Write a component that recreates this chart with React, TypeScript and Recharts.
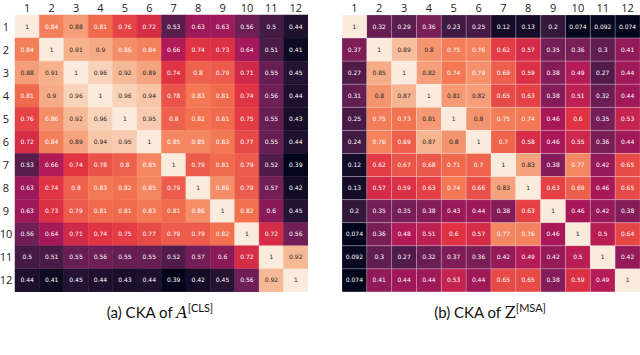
import React from 'react';
import { BarChart, Bar, XAxis, YAxis, Cell, LabelList } from 'recharts';

const rowLabels = ['1', '2', '3', '4', '5', '6', '7', '8', '9', '10', '11', '12'];
const colTicks = [0.5, 1.5, 2.5, 3.5, 4.5, 5.5, 6.5, 7.5, 8.5, 9.5, 10.5, 11.5];

// (a) CKA of A^[CLS]
const clsValues: number[][] = [
  [1, 0.84, 0.88, 0.81, 0.76, 0.72, 0.53, 0.63, 0.63, 0.56, 0.5, 0.44],
  [0.84, 1, 0.91, 0.9, 0.86, 0.84, 0.66, 0.74, 0.73, 0.64, 0.51, 0.41],
  [0.88, 0.91, 1, 0.96, 0.92, 0.89, 0.74, 0.8, 0.79, 0.71, 0.55, 0.45],
  [0.81, 0.9, 0.96, 1, 0.96, 0.94, 0.78, 0.83, 0.81, 0.74, 0.56, 0.44],
  [0.76, 0.86, 0.92, 0.96, 1, 0.95, 0.8, 0.82, 0.81, 0.75, 0.55, 0.43],
  [0.72, 0.84, 0.89, 0.94, 0.95, 1, 0.85, 0.85, 0.83, 0.77, 0.55, 0.44],
  [0.53, 0.66, 0.74, 0.78, 0.8, 0.85, 1, 0.79, 0.81, 0.79, 0.52, 0.39],
  [0.63, 0.74, 0.8, 0.83, 0.82, 0.85, 0.79, 1, 0.86, 0.79, 0.57, 0.42],
  [0.63, 0.73, 0.79, 0.81, 0.81, 0.83, 0.81, 0.86, 1, 0.82, 0.6, 0.45],
  [0.56, 0.64, 0.71, 0.74, 0.75, 0.77, 0.79, 0.79, 0.82, 1, 0.72, 0.56],
  [0.5, 0.51, 0.55, 0.56, 0.55, 0.55, 0.52, 0.57, 0.6, 0.72, 1, 0.92],
  [0.44, 0.41, 0.45, 0.44, 0.43, 0.44, 0.39, 0.42, 0.45, 0.56, 0.92, 1],
];

// (b) CKA of Z^[MSA]
const msaValues: number[][] = [
  [1, 0.32, 0.29, 0.36, 0.23, 0.25, 0.12, 0.13, 0.2, 0.074, 0.092, 0.074],
  [0.37, 1, 0.89, 0.8, 0.75, 0.76, 0.62, 0.57, 0.35, 0.36, 0.3, 0.41],
  [0.27, 0.85, 1, 0.82, 0.74, 0.79, 0.69, 0.59, 0.38, 0.49, 0.27, 0.44],
  [0.31, 0.8, 0.87, 1, 0.81, 0.82, 0.65, 0.63, 0.38, 0.51, 0.32, 0.44],
  [0.25, 0.75, 0.73, 0.81, 1, 0.8, 0.75, 0.74, 0.46, 0.6, 0.35, 0.53],
  [0.24, 0.76, 0.69, 0.87, 0.8, 1, 0.7, 0.58, 0.46, 0.55, 0.36, 0.44],
  [0.12, 0.62, 0.67, 0.68, 0.71, 0.7, 1, 0.83, 0.38, 0.77, 0.42, 0.65],
  [0.13, 0.57, 0.59, 0.63, 0.74, 0.66, 0.83, 1, 0.63, 0.69, 0.46, 0.65],
  [0.2, 0.35, 0.35, 0.38, 0.43, 0.44, 0.38, 0.63, 1, 0.46, 0.42, 0.38],
  [0.074, 0.36, 0.48, 0.51, 0.6, 0.57, 0.77, 0.76, 0.46, 1, 0.5, 0.64],
  [0.092, 0.3, 0.27, 0.32, 0.37, 0.36, 0.42, 0.49, 0.42, 0.5, 1, 0.42],
  [0.074, 0.41, 0.44, 0.44, 0.53, 0.44, 0.65, 0.65, 0.38, 0.59, 0.49, 1],
];

// seaborn "rocket" anchors
const ROCKET = ['#03051a', '#35193e', '#701f57', '#ad1759', '#e13342', '#f37651', '#f6b48f', '#faebdd'];

const hexToRgb = (h: string) => [1, 3, 5].map((i) => parseInt(h.slice(i, i + 2), 16));

function rocketRgb(v: number, lo: number, hi: number) {
  const t = Math.min(1, Math.max(0, (v - lo) / (hi - lo)));
  const p = t * (ROCKET.length - 1);
  const i = Math.min(ROCKET.length - 2, Math.floor(p));
  const f = p - i;
  const a = hexToRgb(ROCKET[i]);
  const b = hexToRgb(ROCKET[i + 1]);
  return a.map((c, k) => Math.round(c + (b[k] - c) * f));
}

const toHex = (rgb: number[]) => '#' + rgb.map((c) => c.toString(16).padStart(2, '0')).join('');

function textColor(rgb: number[]) {
  const lin = rgb.map((c) => {
    const s = c / 255;
    return s <= 0.03928 ? s / 12.92 : Math.pow((s + 0.055) / 1.055, 2.4);
  });
  const lum = 0.2126 * lin[0] + 0.7152 * lin[1] + 0.0722 * lin[2];
  return lum > 0.408 ? '#262626' : '#ffffff';
}

interface HeatmapProps {
  values: number[][];
  width: number;
  height: number;
  showRows: boolean;
  gridLines?: boolean;
}

const Heatmap: React.FC<HeatmapProps> = ({ values, width, height, showRows, gridLines }) => {
  const flat = values.flat();
  const lo = Math.min(...flat);
  const hi = Math.max(...flat);
  const data = rowLabels.map((r, i) => {
    const o: Record<string, any> = { row: r };
    values[i].forEach((v, j) => {
      o[`c${j}`] = 1;
      o[`v${j}`] = v;
    });
    return o;
  });

  return (
    <BarChart
      layout="vertical"
      width={width}
      height={height}
      data={data}
      margin={{ top: 2, right: 0, bottom: 0, left: 0 }}
      barCategoryGap={0}
      barGap={0}
    >
      <XAxis
        type="number"
        orientation="top"
        domain={[0, 12]}
        ticks={colTicks}
        interval={0}
        tickFormatter={(t: number) => String(Math.round(t + 0.5))}
        axisLine={false}
        tickLine={false}
        tickSize={0}
        tickMargin={3}
        height={13}
        tick={{ fontSize: 11, fill: '#222', fontFamily: 'Open Sans' }}
      />
      <YAxis
        type="category"
        dataKey="row"
        hide={!showRows}
        width={15}
        axisLine={false}
        tickLine={false}
        tickSize={0}
        tickMargin={0}
        interval={0}
        tick={(p: any) => (
          <text x={p.x - 9} y={p.y} dy={4} textAnchor="middle" fontSize={11} fill="#222" fontFamily="Open Sans">
            {p.payload.value}
          </text>
        )}
      />
      {colTicks.map((_, j) => (
        <Bar key={j} dataKey={`c${j}`} stackId="m" isAnimationActive={false}>
          {data.map((d, i) => {
            const fill = toHex(rocketRgb(values[i][j], lo, hi));
            return (
              <Cell
                key={i}
                fill={fill}
                stroke={gridLines ? 'rgba(255,255,255,0.3)' : fill}
                strokeWidth={gridLines ? 0.6 : 0.5}
              />
            );
          })}
          <LabelList
            dataKey={`v${j}`}
            content={(p: any) => {
              const rgb = rocketRgb(p.value, lo, hi);
              return (
                <text
                  x={p.x + p.width / 2}
                  y={p.y + p.height / 2}
                  dy={2}
                  textAnchor="middle"
                  fontSize={6}
                  fontFamily="DejaVu Sans"
                  fill={textColor(rgb)}
                >
                  {String(p.value)}
                </text>
              );
            }}
          />
        </Bar>
      ))}
    </BarChart>
  );
};

const captionStyle: React.CSSProperties = {
  position: 'absolute',
  top: 301,
  width: 320,
  textAlign: 'center',
  fontFamily: 'Lato',
  fontSize: 15,
  color: '#111',
};

export default function App() {
  return (
    <div style={{ position: 'absolute', left: 0, top: 0, width: 640, height: 355, background: '#fff', overflow: 'hidden' }}>
      <div style={{ position: 'absolute', left: 0, top: 0 }}>
        <Heatmap values={clsValues} width={308} height={292} showRows />
      </div>
      <div style={{ position: 'absolute', left: 342, top: 0 }}>
        <Heatmap values={msaValues} width={298} height={292} showRows={false} gridLines />
      </div>
      <div style={{ ...captionStyle, left: 0 }}>
        (a) CKA of <i style={{ fontFamily: 'DejaVu Serif', fontSize: 16 }}>A</i>
        <sup style={{ fontSize: 11 }}>[CLS]</sup>
      </div>
      <div style={{ ...captionStyle, left: 330 }}>
        (b) CKA of <span style={{ fontFamily: 'DejaVu Serif', fontSize: 16 }}>Z</span>
        <sup style={{ fontSize: 11 }}>[MSA]</sup>
      </div>
    </div>
  );
}
